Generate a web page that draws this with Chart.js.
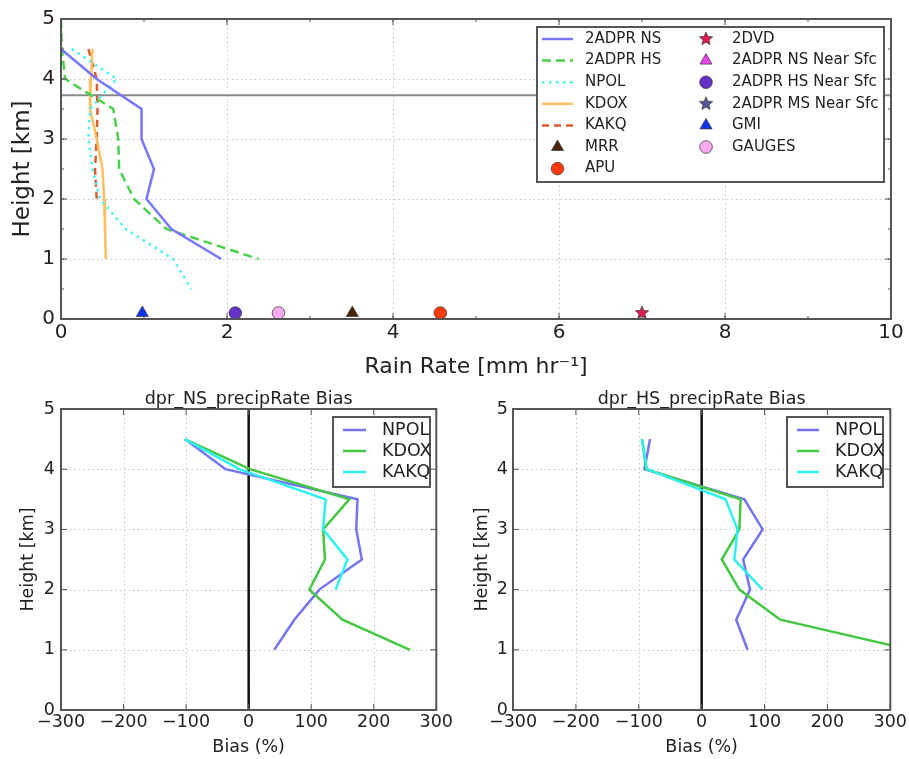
<!DOCTYPE html>
<html>
<head>
<meta charset="utf-8">
<script src="https://cdn.jsdelivr.net/npm/chart.js@4.4.1/dist/chart.umd.min.js"></script>
<style>
  body { margin: 0; background: #fff; }
  #wrap { position: relative; width: 909px; height: 759px; overflow: hidden; }
  canvas { position: absolute; }
  #topChart { left: 0; top: 0; }
  #nsChart { left: 0; top: 380px; }
  #hsChart { left: 450px; top: 380px; }
</style>
</head>
<body>
<div id="wrap">
  <canvas id="topChart" width="909" height="390"></canvas>
  <canvas id="nsChart" width="455" height="379"></canvas>
  <canvas id="hsChart" width="459" height="379"></canvas>
</div>
<script>
/* ===== DATA ===== */
// rain rate profiles (mm/hr) by height (km)
const rateHeights = [5.0, 4.5, 4.0, 3.5, 3.0, 2.5, 2.0, 1.5, 1.0, 0.5];
const nsRate   = [null, 0.00, 0.43, 0.97, 0.97, 1.12, 1.03, 1.33, 1.93, null];
const hsRate   = [0.00, 0.01, 0.05, 0.63, 0.69, 0.70, 0.88, 1.27, 2.38, null];
const npolRate = [null, 0.13, 0.67, 0.35, 0.33, 0.38, 0.47, 0.78, 1.35, 1.57];
const kdoxRate = [null, 0.38, 0.36, 0.35, 0.43, 0.50, 0.52, 0.53, 0.54, null];
const kakqRate = [null, 0.33, 0.43, 0.44, 0.43, 0.41, 0.43, null, null, null];
const freezingLevel = 3.73;
const rateRange = [0, 10];

// near-surface estimates
const sfcHeight = 0.1;
const sfcNames = ['MRR', 'APU', '2DVD', '2ADPR NS Near Sfc', '2ADPR HS Near Sfc', '2ADPR MS Near Sfc', 'GMI', 'GAUGES'];
const sfcRates = [3.51, 4.57, 7.0, null, 2.1, null, 0.98, 2.62];

// bias profiles (%)
const biasHeights = [4.5, 4.0, 3.5, 3.0, 2.5, 2.0, 1.5, 1.0];
const nsBiasNpol = [-102, -37, 174, 172, 181, 113, 73, 41];
const nsBiasKdox = [-102, 2, 161, 119, 122, 97, 150, 258];
const nsBiasKakq = [-102, -15, 123, 119, 158, 139, null, null];
const hsBiasNpol = [-82, -91, 68, 97, 66, 77, 55, 73];
const hsBiasKdox = [-95, -88, 62, 60, 32, 60, 125, 333];
const hsBiasKakq = [-95, -87, 38, 57, 52, 97, null, null];
const zeroLine = [0, 5];

const FONT = "'DejaVu Sans', sans-serif";
const TXT = '#222';
const FRAME = '#555';

const pts = (xs, ys) => ys.map((y, i) => xs[i] == null ? null : { x: xs[i], y }).filter(Boolean);

/* ===== STAR MARKER ===== */
function starImage(fill, r) {
  const c = document.createElement('canvas');
  const s = Math.ceil(r * 2 + 4);
  c.width = s; c.height = s;
  const g = c.getContext('2d');
  g.beginPath();
  for (let k = 0; k < 10; k++) {
    const a = -Math.PI / 2 + k * Math.PI / 5;
    const rr = k % 2 ? r * 0.45 : r;
    g.lineTo(s / 2 + Math.cos(a) * rr, s / 2 + Math.sin(a) * rr);
  }
  g.closePath();
  g.fillStyle = fill; g.fill();
  g.strokeStyle = '#333'; g.lineWidth = 0.7; g.stroke();
  return c;
}

function drawMarker(ctx, ds, x, y) {
  const st = ds.pointStyle, r = ds.pointRadius;
  if (st instanceof HTMLCanvasElement) { ctx.drawImage(st, x - st.width / 2, y - st.height / 2); return; }
  ctx.beginPath();
  if (st === 'triangle') {
    for (let k = 0; k < 3; k++) {
      const a = k * 2 * Math.PI / 3;
      ctx.lineTo(x + Math.sin(a) * r, y - Math.cos(a) * r);
    }
    ctx.closePath();
  } else {
    ctx.arc(x, y, r, 0, Math.PI * 2);
  }
  ctx.fillStyle = ds.backgroundColor; ctx.fill();
  ctx.strokeStyle = ds.borderColor; ctx.lineWidth = ds.borderWidth; ctx.stroke();
}

/* ===== PLUGINS: dotted grid, frame with inward ticks, boxed legend, panel title ===== */
const framePlugin = {
  id: 'frame',
  beforeDatasetsDraw(chart) {
    const { ctx, chartArea: a, scales: { x, y } } = chart;
    ctx.save();
    ctx.strokeStyle = '#c4c4c4'; ctx.lineWidth = 1; ctx.setLineDash([1.5, 3]);
    x.ticks.forEach(t => {
      if (t.value <= x.min || t.value >= x.max) return;
      const p = Math.round(x.getPixelForValue(t.value)) + 0.5;
      ctx.beginPath(); ctx.moveTo(p, a.top); ctx.lineTo(p, a.bottom); ctx.stroke();
    });
    y.ticks.forEach(t => {
      if (t.value <= y.min || t.value >= y.max) return;
      const p = Math.round(y.getPixelForValue(t.value)) + 0.5;
      ctx.beginPath(); ctx.moveTo(a.left, p); ctx.lineTo(a.right, p); ctx.stroke();
    });
    ctx.restore();
  },
  afterDatasetsDraw(chart, args, o) {
    const { ctx, chartArea: a, scales: { x, y } } = chart;
    ctx.save();
    ctx.strokeStyle = FRAME; ctx.lineWidth = 1;
    const tickX = (v, len) => {
      const p = x.getPixelForValue(v);
      ctx.beginPath(); ctx.moveTo(p, a.bottom); ctx.lineTo(p, a.bottom - len);
      ctx.moveTo(p, a.top); ctx.lineTo(p, a.top + len); ctx.stroke();
    };
    const tickY = (v, len) => {
      const p = y.getPixelForValue(v);
      ctx.beginPath(); ctx.moveTo(a.left, p); ctx.lineTo(a.left + len, p);
      ctx.moveTo(a.right, p); ctx.lineTo(a.right - len, p); ctx.stroke();
    };
    x.ticks.forEach(t => tickX(t.value, 6));
    y.ticks.forEach(t => tickY(t.value, 6));
    if (o.minorX) for (let v = x.min; v <= x.max + 1e-9; v += o.minorX) tickX(v, 3);
    if (o.minorY) for (let v = y.min; v <= y.max + 1e-9; v += o.minorY) tickY(v, 3);
    ctx.lineWidth = 2;
    ctx.strokeRect(a.left, a.top, a.right - a.left, a.bottom - a.top);
    if (o.title) {
      ctx.fillStyle = TXT; ctx.font = o.titleFont; ctx.textAlign = 'center'; ctx.textBaseline = 'alphabetic';
      ctx.fillText(o.title, (a.left + a.right) / 2, a.top - 5);
    }
    ctx.restore();
  }
};

const legendPlugin = {
  id: 'boxLegend',
  afterDraw(chart, args, o) {
    const ctx = chart.ctx;
    ctx.save();
    ctx.fillStyle = '#fff'; ctx.strokeStyle = FRAME; ctx.lineWidth = 2;
    ctx.fillRect(o.box[0], o.box[1], o.box[2], o.box[3]);
    ctx.strokeRect(o.box[0], o.box[1], o.box[2], o.box[3]);
    ctx.font = o.font; ctx.textBaseline = 'middle'; ctx.textAlign = 'left';
    let i = 0;
    chart.data.datasets.forEach(ds => {
      if (!ds.label) return;
      const col = i < o.perCol ? 0 : 1;
      const row = col ? i - o.perCol : i;
      const c = o.cols[col];
      const yy = o.y0 + row * o.dy;
      if (ds.showLine) {
        ctx.strokeStyle = ds.borderColor; ctx.lineWidth = ds.borderWidth;
        ctx.setLineDash(ds.borderDash || []);
        ctx.beginPath(); ctx.moveTo(c.h0, yy); ctx.lineTo(c.h1, yy); ctx.stroke();
        ctx.setLineDash([]);
      } else {
        drawMarker(ctx, ds, (c.h0 + c.h1) / 2, yy);
      }
      ctx.fillStyle = TXT;
      ctx.fillText(ds.label, c.t, yy);
      i++;
    });
    ctx.restore();
  }
};

const noGrid = { display: false, drawTicks: false };

/* ===== TOP: RAIN RATE PROFILES ===== */
const lineDs = (label, xs, color, dash, w) => ({
  label, data: pts(xs, rateHeights), showLine: true, pointRadius: 0,
  borderColor: color, borderWidth: w || 2.5, borderDash: dash, backgroundColor: color
});
const sfcStyle = {
  'MRR': ['triangle', '#4a2307', 7],
  'APU': ['circle', '#ff3a08', 6.3],
  '2DVD': [starImage('#dc1e50', 7), '#dc1e50', 7],
  '2ADPR NS Near Sfc': ['triangle', '#ee44ee', 7],
  '2ADPR HS Near Sfc': ['circle', '#6431c8', 6.3],
  '2ADPR MS Near Sfc': [starImage('#55559a', 7), '#55559a', 7],
  'GMI': ['triangle', '#1030f0', 7],
  'GAUGES': ['circle', '#ffaaf0', 6.3]
};
const sfcDs = sfcNames.map((n, i) => ({
  label: n,
  data: sfcRates[i] == null ? [] : [{ x: sfcRates[i], y: sfcHeight }],
  showLine: false,
  pointStyle: sfcStyle[n][0], backgroundColor: sfcStyle[n][1], pointRadius: sfcStyle[n][2],
  borderColor: '#444', borderWidth: 0.8, clip: false
}));

new Chart(document.getElementById('topChart'), {
  type: 'scatter',
  data: {
    datasets: [
      lineDs('2ADPR NS', nsRate, '#7878f8', []),
      lineDs('2ADPR HS', hsRate, '#4ccf4c', [9, 5]),
      lineDs('NPOL', npolRate, '#44f2f2', [2.5, 4.5]),
      lineDs('KDOX', kdoxRate, '#ffbf60', []),
      lineDs('KAKQ', kakqRate, '#e05a30', [7, 5]),
      ...sfcDs,
      { data: rateRange.map(v => ({ x: v, y: freezingLevel })), showLine: true, pointRadius: 0,
        borderColor: '#8a8a8a', borderWidth: 2 }
    ]
  },
  options: {
    responsive: false, animation: false,
    layout: { padding: { top: 19, right: 18, left: 0, bottom: 0 } },
    scales: {
      x: {
        type: 'linear', min: 0, max: 10,
        afterFit: s => { s.height = 71; },
        ticks: { stepSize: 2, color: TXT, font: { family: FONT, size: 20 }, padding: 2, maxRotation: 0, autoSkip: false },
        grid: noGrid, border: { display: false },
        title: { display: true, text: 'Rain Rate [mm hr\u207B\u00B9]', color: TXT, font: { family: FONT, size: 22 }, padding: { top: 0, bottom: 10 } }
      },
      y: {
        type: 'linear', min: 0, max: 5,
        afterFit: s => { s.width = 61; },
        ticks: { stepSize: 1, color: TXT, font: { family: FONT, size: 20 }, padding: 6 },
        grid: noGrid, border: { display: false },
        title: { display: true, text: 'Height [km]', color: TXT, font: { family: FONT, size: 23 }, padding: { top: 9, bottom: 0 } }
      }
    },
    plugins: {
      legend: { display: false }, tooltip: { enabled: false },
      frame: { minorX: 1, minorY: 0.5 },
      boxLegend: {
        box: [537, 27, 347, 155], font: '15px ' + FONT, perCol: 7, y0: 39, dy: 21.6,
        cols: [{ h0: 542, h1: 573, t: 585 }, { h0: 691, h1: 721, t: 732 }]
      }
    }
  },
  plugins: [framePlugin, legendPlugin]
});

/* ===== BOTTOM: BIAS PROFILES ===== */
const BFS = 17.5;
function biasChart(id, title, npol, kdox, kakq, yWidth, yTitlePad, tickPad, legendBox, legendCols) {
  const bl = (label, xs, color, order) => ({
    label, data: pts(xs, biasHeights), showLine: true, pointRadius: 0,
    borderColor: color, backgroundColor: color, borderWidth: 2.5, order
  });
  return new Chart(document.getElementById(id), {
    type: 'scatter',
    data: {
      datasets: [
        bl('NPOL', npol, '#7474f0', 2),
        bl('KDOX', kdox, '#44c844', 1),
        bl('KAKQ', kakq, '#30efef', 0),
        { data: zeroLine.map(v => ({ x: 0, y: v })), showLine: true, pointRadius: 0,
          borderColor: '#111', borderWidth: 2.5, order: 3 }
      ]
    },
    options: {
      responsive: false, animation: false,
      layout: { padding: { top: 29, right: 17, left: 0, bottom: 0 } },
      scales: {
        x: {
          type: 'linear', min: -300, max: 300,
          afterFit: s => { s.height = 49; },
          ticks: { stepSize: 100, color: TXT, font: { family: FONT, size: BFS }, padding: 2, maxRotation: 0, autoSkip: false,
                   callback: v => String(v).replace('-', '\u2212') },
          grid: noGrid, border: { display: false },
          title: { display: true, text: 'Bias (%)', color: TXT, font: { family: FONT, size: BFS }, padding: { top: 0, bottom: 1.5 } }
        },
        y: {
          type: 'linear', min: 0, max: 5,
          afterFit: s => { s.width = yWidth; },
          ticks: { stepSize: 1, color: TXT, font: { family: FONT, size: BFS }, padding: tickPad },
          grid: noGrid, border: { display: false },
          title: { display: true, text: 'Height [km]', color: TXT, font: { family: FONT, size: BFS }, padding: { top: yTitlePad, bottom: 0 } }
        }
      },
      plugins: {
        legend: { display: false }, tooltip: { enabled: false },
        frame: { title, titleFont: BFS + 'px ' + FONT },
        boxLegend: { box: legendBox, font: BFS + 'px ' + FONT, perCol: 3, y0: 50, dy: 21, cols: [legendCols] }
      }
    },
    plugins: [framePlugin, legendPlugin]
  });
}

biasChart('nsChart', 'dpr_NS_precipRate Bias', nsBiasNpol, nsBiasKdox, nsBiasKakq, 61, 17.5, 6,
  [333, 37, 97, 70], { h0: 343, h1: 366, t: 382 });
biasChart('hsChart', 'dpr_HS_precipRate Bias', hsBiasNpol, hsBiasKdox, hsBiasKakq, 63, 21.5, 5,
  [337, 37, 96, 70], { h0: 347, h1: 369, t: 385 });
</script>
</body>
</html>
